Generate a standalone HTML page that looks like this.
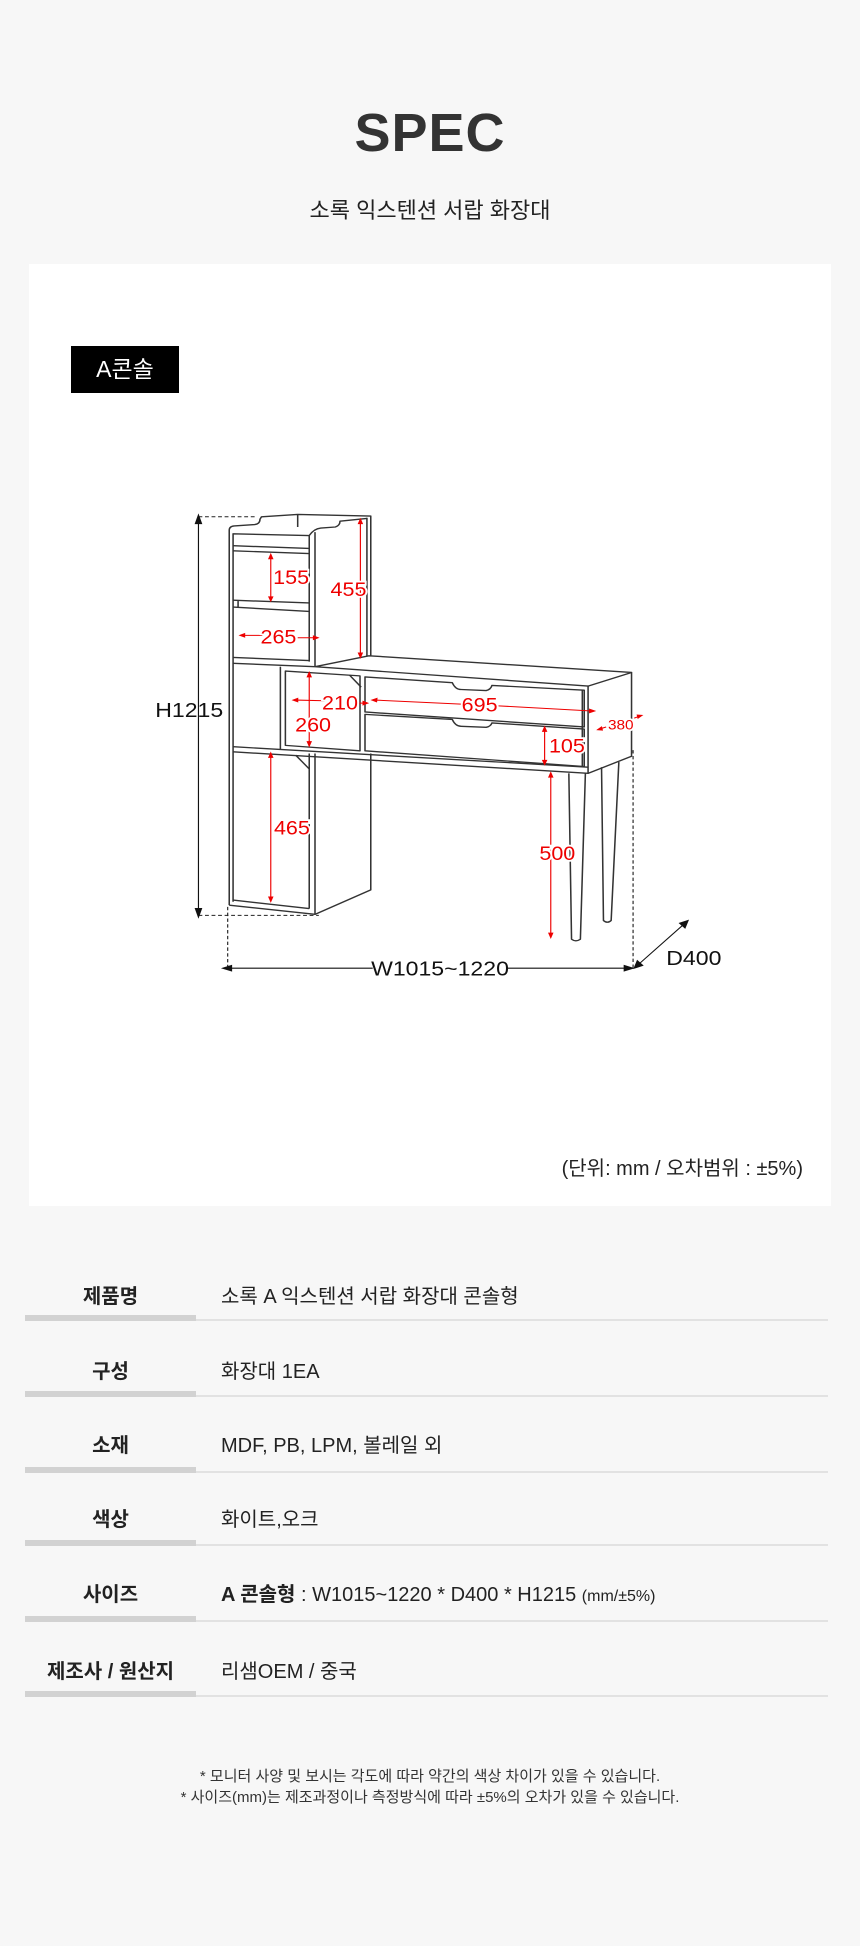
<!DOCTYPE html>
<html><head><meta charset="utf-8"><style>
*{margin:0;padding:0;box-sizing:border-box}
body{width:860px;height:1946px;background:#f7f7f7;position:relative;font-family:"Liberation Sans","Noto Sans CJK KR",sans-serif;color:#222;overflow:hidden}
.abs{position:absolute}
.title{left:0;width:860px;top:102px;text-align:center;font-size:54px;font-weight:bold;color:#333;letter-spacing:1px}
.sub{left:0;width:860px;top:193px;text-align:center;font-size:22px;color:#222}
.panel{left:29px;top:264px;width:802px;height:942px;background:#fff}
.badge{left:71px;top:346px;width:108px;height:47px;background:#000;color:#fff;font-size:23px;line-height:47px;text-align:center}
.unit{right:57px;top:1152px;font-size:20px;color:#222}
.row{position:absolute;left:25px;width:803px;height:76px}
.lab{position:absolute;left:0;width:171px;text-align:center;font-weight:bold;font-size:20px;top:0}
.val{position:absolute;left:196px;font-size:20px;top:0}
.bar{position:absolute;left:0;width:171px;height:6px;background:#d2d2d2}
.ln{position:absolute;left:171px;width:632px;height:2px;background:#e2e2e2}
.note{left:0;width:860px;text-align:center;font-size:15px;color:#333}
</style></head><body>
<div class="abs title">SPEC</div>
<div class="abs sub">소록 익스텐션 서랍 화장대</div>
<div class="abs panel"></div>
<div class="abs badge">A콘솔</div>

<svg class="abs" style="left:140px;top:481px" width="600" height="540" viewBox="0 0 1560 1585" preserveAspectRatio="none">
<g fill="none" stroke="#333" stroke-width="4" stroke-linejoin="round">
<path d="M232,1245 L232,145 Q232,133 245,132 L298,128 Q312,126 312,112 L316,105 L410,98 L600,103 L600,515"/>
<path d="M590,108 L590,515"/>
<path d="M410,98 L410,135"/>
<path d="M242,1235 L242,155 L440,160 Q452,140 470,138 L508,135 Q520,130 520,118 L590,110"/>
<path d="M440,160 L440,530 M455,150 L455,545"/>
<path d="M242,190 L440,198 M242,205 L440,213"/>
<path d="M242,350 L440,358 M242,370 L440,383 M255,350 L255,370"/>
<path d="M242,518 L440,527 M242,535 L455,545"/>
<path d="M455,545 L595,513 L1278,562 L1165,602 L455,545"/>
<path d="M1278,562 L1278,808 L1165,858 L1165,602"/>
<path d="M242,780 L1165,840 M242,795 L1165,858"/>
<path d="M365,545 L365,787"/>
<path d="M378,558 L572,572 L572,792 L378,776 Z"/>
<path d="M545,570 L575,605"/>
<path d="M585,575 L812,592 Q820,612 835,612 L900,615 Q912,612 915,600 L1155,614 L1155,722 L585,678 Z"/>
<path d="M585,685 L812,700 Q820,720 835,720 L900,723 Q912,720 915,710 L1155,728 L1155,838 L585,792 Z"/>
<path d="M1150,614 L1150,838"/>
<path d="M440,800 L440,1255 M455,800 L455,1272"/>
<path d="M232,1245 L455,1272 L600,1200 L600,800"/>
<path d="M242,1230 L440,1255"/>
<path d="M405,805 L440,845"/>
<path d="M1115,858 L1122,1345 Q1133,1354 1145,1345 L1158,858"/>
<path d="M1200,840 L1205,1290 Q1215,1300 1225,1290 L1245,825"/>
</g>
<g fill="none" stroke="#222" stroke-width="3" stroke-dasharray="10,7">
<path d="M152,105 L300,105 M152,1275 L465,1275 M228,1250 L228,1430 M1282,790 L1282,1430"/>
</g>
<g stroke="#111" stroke-width="3" fill="#111">
<path d="M152,112 L152,1268"/><path d="M152,100 L144,125 L160,125 Z M152,1280 L144,1255 L160,1255 Z"/>
<path d="M225,1430 L605,1430 M955,1430 L1275,1430"/><path d="M215,1430 L238,1422 L238,1438 Z M1282,1430 L1259,1422 L1259,1438 Z"/>
<path d="M1292,1423 L1418,1297"/><path d="M1285,1430 L1293,1408 L1307,1422 Z M1425,1290 L1403,1298 L1417,1312 Z"/>
</g>
<g font-family="Liberation Sans, sans-serif" fill="#111" font-size="60" text-anchor="middle">
<text x="128" y="693">H1215</text>
<text x="780" y="1452">W1015~1220</text>
<text x="1440" y="1420">D400</text>
</g>
<g stroke="#e00" stroke-width="3" fill="#e00">
<path d="M340,222 L340,347"/><path d="M340,215 L335,228 L345,228Z M340,352 L335,340 L345,340Z"/>
<path d="M573,118 L573,512"/><path d="M573,112 L568,125 L578,125Z M573,518 L568,505 L578,505Z"/>
<path d="M268,453 L318,453 M410,460 L458,460"/><path d="M260,453 L272,448 L272,458Z M463,460 L451,455 L451,465Z"/>
<path d="M405,643 L480,645 M570,652 L588,652"/><path d="M398,643 L410,638 L410,648Z M592,652 L580,647 L580,657Z"/>
<path d="M440,568 L440,772"/><path d="M440,562 L435,575 L445,575Z M440,778 L435,765 L445,765Z"/>
<path d="M610,643 L835,655 M932,660 L1175,675"/><path d="M603,643 L616,638 L615,648Z M1182,675 L1169,670 L1169,680Z"/>
<path d="M1052,728 L1052,827"/><path d="M1052,722 L1047,735 L1057,735Z M1052,832 L1047,820 L1057,820Z"/>
<path d="M1195,728 L1212,722 M1285,696 L1300,690"/><path d="M1190,730 L1200,722 L1202,731Z M1305,688 L1295,696 L1293,687Z"/>
<path d="M340,805 L340,1228"/><path d="M340,798 L335,811 L345,811Z M340,1234 L335,1221 L345,1221Z"/>
<path d="M1068,862 L1068,1334"/><path d="M1068,856 L1063,869 L1073,869Z M1068,1340 L1063,1327 L1073,1327Z"/>
</g>
<g font-family="Liberation Sans, sans-serif" fill="#e00" font-size="56" text-anchor="middle" stroke="#fff" stroke-width="10" paint-order="stroke">
<text x="393" y="303">155</text>
<text x="542" y="337">455</text>
<text x="360" y="477">265</text>
<text x="520" y="670">210</text>
<text x="450" y="735">260</text>
<text x="883" y="677">695</text>
<text x="1110" y="797">105</text>
<text x="1250" y="730" font-size="40">380</text>
<text x="395" y="1038">465</text>
<text x="1085" y="1112">500</text>
</g>
</svg>

<div class="abs unit">(단위: mm / 오차범위 : ±5%)</div>

<div class="row" style="top:1280px"><div class="lab">제품명</div><div class="val">소록 A 익스텐션 서랍 화장대 콘솔형</div><div class="bar" style="top:35px"></div><div class="ln" style="top:39px"></div></div>
<div class="row" style="top:1355px"><div class="lab">구성</div><div class="val">화장대 1EA</div><div class="bar" style="top:36px"></div><div class="ln" style="top:40px"></div></div>
<div class="row" style="top:1429px"><div class="lab">소재</div><div class="val">MDF, PB, LPM, 볼레일 외</div><div class="bar" style="top:38px"></div><div class="ln" style="top:42px"></div></div>
<div class="row" style="top:1503px"><div class="lab">색상</div><div class="val">화이트,오크</div><div class="bar" style="top:37px"></div><div class="ln" style="top:41px"></div></div>
<div class="row" style="top:1578px"><div class="lab">사이즈</div><div class="val"><b>A 콘솔형</b> : W1015~1220 * D400 * H1215 <span style="font-size:16px">(mm/±5%)</span></div><div class="bar" style="top:38px"></div><div class="ln" style="top:42px"></div></div>
<div class="row" style="top:1655px"><div class="lab">제조사 / 원산지</div><div class="val">리샘OEM / 중국</div><div class="bar" style="top:36px"></div><div class="ln" style="top:40px"></div></div>

<div class="abs note" style="top:1765px">* 모니터 사양 및 보시는 각도에 따라 약간의 색상 차이가 있을 수 있습니다.</div>
<div class="abs note" style="top:1786px">* 사이즈(mm)는 제조과정이나 측정방식에 따라 ±5%의 오차가 있을 수 있습니다.</div>
</body></html>
